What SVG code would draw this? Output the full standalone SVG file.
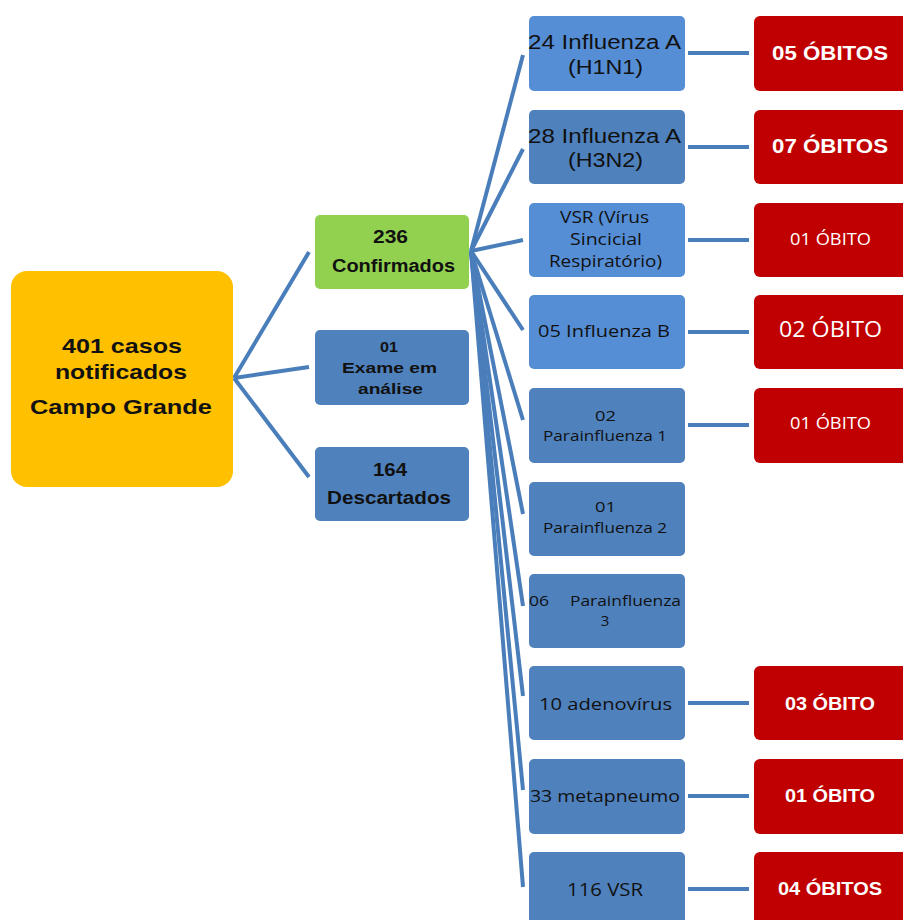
<svg xmlns="http://www.w3.org/2000/svg" width="903" height="920" viewBox="0 0 903 920">
<style>
.root{fill:#FFC000}
.green{fill:#92D050}
.b1{fill:#4F81BD}
.b2{fill:#558ED5}
.red{fill:#C00000}
text{font-family:"Liberation Sans",Arial,sans-serif;fill:#111}
.bold{font-weight:bold}
.w{fill:#fff}
.cal{font-family:"Open Sans","Liberation Sans",sans-serif}
#connectors line{stroke:#4A7EBB;stroke-width:4;stroke-linecap:butt}
</style>
<rect width="903" height="920" fill="#fff"/>
<g id="connectors">
<line x1="234" y1="378" x2="309" y2="252"/>
<line x1="234" y1="378" x2="309" y2="367"/>
<line x1="234" y1="378" x2="309" y2="477"/>
<line x1="471" y1="251" x2="523" y2="55"/>
<line x1="471" y1="251" x2="523" y2="149"/>
<line x1="471" y1="251" x2="523" y2="240"/>
<line x1="471" y1="251" x2="523" y2="330"/>
<line x1="471" y1="251" x2="523" y2="420"/>
<line x1="471" y1="251" x2="523" y2="514"/>
<line x1="471" y1="251" x2="523" y2="606"/>
<line x1="471" y1="251" x2="523" y2="696"/>
<line x1="471" y1="251" x2="523" y2="790"/>
<line x1="471" y1="251" x2="523" y2="887"/>
<line x1="688" y1="53" x2="749" y2="53"/>
<line x1="688" y1="147" x2="749" y2="147"/>
<line x1="688" y1="240" x2="749" y2="240"/>
<line x1="688" y1="332" x2="749" y2="332"/>
<line x1="688" y1="425" x2="749" y2="425"/>
<line x1="688" y1="703" x2="749" y2="703"/>
<line x1="688" y1="796" x2="749" y2="796"/>
<line x1="688" y1="889" x2="749" y2="889"/>
</g>
<g id="root">
<rect class="root" x="11" y="271" width="222" height="216" rx="16"/>
<text class="bold" x="62" y="353" font-size="21" textLength="120" lengthAdjust="spacingAndGlyphs">401 casos</text>
<text class="bold" x="55" y="379" font-size="21" textLength="132" lengthAdjust="spacingAndGlyphs">notificados</text>
<text class="bold" x="30" y="414" font-size="21" textLength="182" lengthAdjust="spacingAndGlyphs">Campo Grande</text>
</g>
<g id="confirmados">
<rect class="green" x="315" y="215" width="154" height="74" rx="5"/>
<text class="bold" x="373" y="243" font-size="18" textLength="35" lengthAdjust="spacingAndGlyphs">236</text>
<text class="bold" x="332" y="272" font-size="18" textLength="123" lengthAdjust="spacingAndGlyphs">Confirmados</text>
</g>
<g id="exame">
<rect class="b1" x="315" y="330" width="154" height="75" rx="5"/>
<text class="bold" x="380" y="352" font-size="15" textLength="18" lengthAdjust="spacingAndGlyphs">01</text>
<text class="bold" x="342" y="373" font-size="15" textLength="95" lengthAdjust="spacingAndGlyphs">Exame em</text>
<text class="bold" x="358" y="394" font-size="15" textLength="65" lengthAdjust="spacingAndGlyphs">análise</text>
</g>
<g id="descartados">
<rect class="b1" x="315" y="447" width="154" height="74" rx="5"/>
<text class="bold" x="373" y="476" font-size="18" textLength="34" lengthAdjust="spacingAndGlyphs">164</text>
<text class="bold" x="327" y="504" font-size="18" textLength="124" lengthAdjust="spacingAndGlyphs">Descartados</text>
</g>
<g id="h1n1">
<rect class="b2" x="529" y="16" width="156" height="75" rx="5"/>
<text x="528" y="49" font-size="20" textLength="153" lengthAdjust="spacingAndGlyphs">24 Influenza A</text>
<text x="568" y="74" font-size="20" textLength="75" lengthAdjust="spacingAndGlyphs">(H1N1)</text>
</g>
<g id="h3n2">
<rect class="b1" x="529" y="110" width="156" height="74" rx="5"/>
<text x="528" y="143" font-size="20" textLength="153" lengthAdjust="spacingAndGlyphs">28 Influenza A</text>
<text x="568" y="167" font-size="20" textLength="75" lengthAdjust="spacingAndGlyphs">(H3N2)</text>
</g>
<g id="vsr-sincicial">
<rect class="b2" x="529" y="203" width="156" height="74" rx="5"/>
<text class="cal" x="560" y="223" font-size="16" textLength="89" lengthAdjust="spacingAndGlyphs">VSR (Vírus</text>
<text class="cal" x="570" y="245" font-size="16" textLength="72" lengthAdjust="spacingAndGlyphs">Sincicial</text>
<text class="cal" x="549" y="267" font-size="16" textLength="113" lengthAdjust="spacingAndGlyphs">Respiratório)</text>
</g>
<g id="influenza-b">
<rect class="b2" x="529" y="295" width="156" height="74" rx="5"/>
<text class="cal" x="538" y="337" font-size="17" textLength="132" lengthAdjust="spacingAndGlyphs">05 Influenza B</text>
</g>
<g id="parainfluenza1">
<rect class="b1" x="529" y="388" width="156" height="75" rx="5"/>
<text class="cal" x="595" y="421" font-size="15" textLength="21" lengthAdjust="spacingAndGlyphs">02</text>
<text class="cal" x="543" y="441" font-size="15" textLength="124" lengthAdjust="spacingAndGlyphs">Parainfluenza 1</text>
</g>
<g id="parainfluenza2">
<rect class="b1" x="529" y="482" width="156" height="74" rx="5"/>
<text class="cal" x="595" y="512" font-size="15" textLength="21" lengthAdjust="spacingAndGlyphs">01</text>
<text class="cal" x="543" y="533" font-size="15" textLength="124" lengthAdjust="spacingAndGlyphs">Parainfluenza 2</text>
</g>
<g id="parainfluenza3">
<rect class="b1" x="529" y="574" width="156" height="74" rx="5"/>
<text class="cal" x="529" y="606" font-size="15" textLength="20" lengthAdjust="spacingAndGlyphs">06</text>
<text class="cal" x="570" y="606" font-size="15" textLength="111" lengthAdjust="spacingAndGlyphs">Parainfluenza</text>
<text class="cal" x="605" y="626" font-size="15" text-anchor="middle">3</text>
</g>
<g id="adenovirus">
<rect class="b1" x="529" y="666" width="156" height="74" rx="5"/>
<text class="cal" x="539" y="710" font-size="17" textLength="133" lengthAdjust="spacingAndGlyphs">10 adenovírus</text>
</g>
<g id="metapneumo">
<rect class="b1" x="529" y="759" width="156" height="75" rx="5"/>
<text class="cal" x="530" y="802" font-size="17" textLength="150" lengthAdjust="spacingAndGlyphs">33 metapneumo</text>
</g>
<g id="vsr116">
<rect class="b1" x="529" y="852" width="156" height="80" rx="5"/>
<text class="cal" x="567" y="896" font-size="18" textLength="76" lengthAdjust="spacingAndGlyphs">116 VSR</text>
</g>
<g id="obito-h1n1">
<rect class="red" x="754" y="16" width="160" height="75" rx="6"/>
<text class="bold w" x="772" y="60" font-size="21" textLength="116" lengthAdjust="spacingAndGlyphs">05 ÓBITOS</text>
</g>
<g id="obito-h3n2">
<rect class="red" x="754" y="110" width="160" height="74" rx="6"/>
<text class="bold w" x="772" y="153" font-size="21" textLength="116" lengthAdjust="spacingAndGlyphs">07 ÓBITOS</text>
</g>
<g id="obito-vsr-sincicial">
<rect class="red" x="754" y="203" width="160" height="74" rx="6"/>
<text class="w cal" x="790" y="245" font-size="16" textLength="81" lengthAdjust="spacingAndGlyphs">01 ÓBITO</text>
</g>
<g id="obito-influenza-b">
<rect class="red" x="754" y="295" width="160" height="74" rx="6"/>
<text class="w cal" x="779" y="337" font-size="21" textLength="103" lengthAdjust="spacingAndGlyphs">02 ÓBITO</text>
</g>
<g id="obito-parainfluenza1">
<rect class="red" x="754" y="388" width="160" height="75" rx="6"/>
<text class="w cal" x="790" y="429" font-size="16" textLength="81" lengthAdjust="spacingAndGlyphs">01 ÓBITO</text>
</g>
<g id="obito-adenovirus">
<rect class="red" x="754" y="666" width="160" height="74" rx="6"/>
<text class="bold w" x="785" y="710" font-size="18" textLength="90" lengthAdjust="spacingAndGlyphs">03 ÓBITO</text>
</g>
<g id="obito-metapneumo">
<rect class="red" x="754" y="759" width="160" height="75" rx="6"/>
<text class="bold w" x="785" y="802" font-size="18" textLength="90" lengthAdjust="spacingAndGlyphs">01 ÓBITO</text>
</g>
<g id="obito-vsr116">
<rect class="red" x="754" y="852" width="160" height="80" rx="6"/>
<text class="bold w" x="778" y="895" font-size="18" textLength="104" lengthAdjust="spacingAndGlyphs">04 ÓBITOS</text>
</g>
</svg>
